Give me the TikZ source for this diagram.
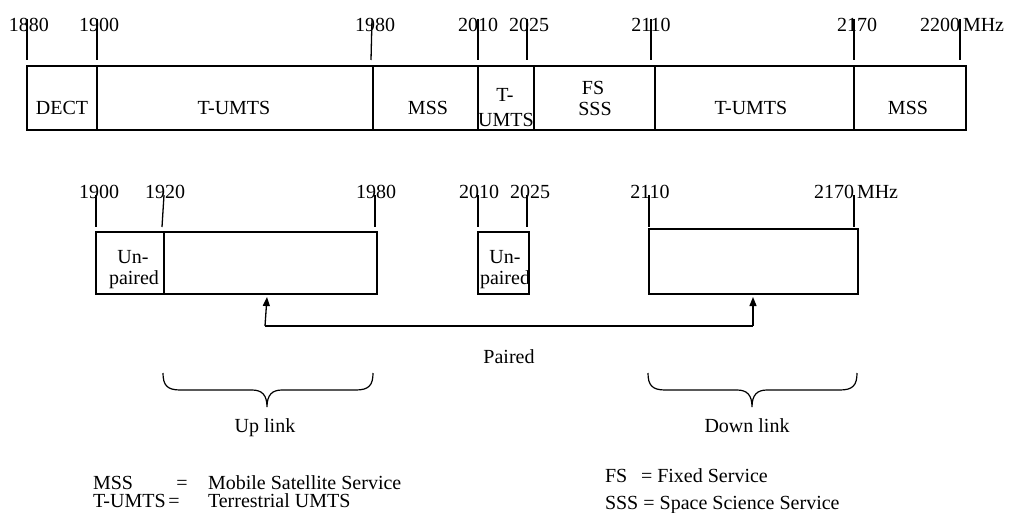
\documentclass[tikz,border=0pt]{standalone}
\usepackage{fontspec}
\setmainfont{Liberation Serif}
\usetikzlibrary{arrows.meta}
\begin{document}
\begin{tikzpicture}[x=1pt,y=-1pt,
  every node/.style={font=\fontsize{20}{22}\selectfont, inner sep=0pt, outer sep=0pt},
  lbl/.style={anchor=base},
  lblw/.style={anchor=base west},
  band/.style={draw, line width=1.3pt},
  tickline/.style={line width=1.3pt},
  conn/.style={line width=1.3pt},
  tipped/.style={conn, -{Triangle[length=9pt,width=7pt]}},
  bracepath/.style={line width=1.2pt}]
\useasboundingbox (0,0) rectangle (1011,513);

% ---------- top band ----------
\draw[band] (27,66) rectangle (966,130);
\foreach \x in {97,373,478,534,655,854} \draw[band] (\x,66) -- (\x,130);

\node[lbl] (t1880) at (29,32) {1880};
\node[lbl] (t1900) at (99,32) {1900};
\node[lbl] (t1980) at (375,32) {1980};
\node[lbl] (t2010) at (478,32) {2010};
\node[lbl] (t2025) at (529,32) {2025};
\node[lbl] (t2110) at (651,32) {2110};
\node[lbl] (t2170) at (857,32) {2170};
\node[lbl] (t2200) at (940,32) {2200};
\node[lblw] (tmhz) at (963,32) {MHz};

\foreach \a/\b in {27/27,97/97,372/371,478/478,527/527,651/651,854/854,960/960}
  \draw[tickline] (\a,19) -- (\b,60);

\node[lbl] (dect) at (62,115) {DECT};
\node[lbl] (tumtsA) at (234,115) {T-UMTS};
\node[lbl] (mssA) at (428,115) {MSS};
\node[lbl] (tumtsB1) at (505,102) {T-};
\node[lbl] (tumtsB2) at (506,127) {UMTS};
\node[lbl] (fs) at (593,95) {FS};
\node[lbl] (sss) at (595,116) {SSS};
\node[lbl] (tumtsC) at (751,115) {T-UMTS};
\node[lbl] (mssB) at (908,115) {MSS};

% ---------- second row ----------
\node[lbl] (b1900) at (99,198) {1900};
\node[lbl] (b1920) at (165,198) {1920};
\node[lbl] (b1980) at (376,198) {1980};
\node[lbl] (b2010) at (479,198) {2010};
\node[lbl] (b2025) at (530,198) {2025};
\node[lbl] (b2110) at (650,198) {2110};
\node[lbl] (b2170) at (834,198) {2170};
\node[lblw] (bmhz) at (857,198) {MHz};

\foreach \a/\b in {96/96,164/162,375/375,478/478,527/527,649/649,854/854}
  \draw[tickline] (\a,195) -- (\b,227);

\draw[band] (96,232) rectangle (377,294);
\draw[band] (164,232) -- (164,294);
\draw[band] (478,232) rectangle (529,294);
\draw[band] (649,229) rectangle (858,294);

\node[lbl] (un1) at (133,263) {Un-};
\node[lbl] (pa1) at (134,284) {paired};
\node[lbl] (un2) at (505,263) {Un-};
\node[lbl] (pa2) at (505,284) {paired};

% ---------- paired arrows ----------
\coordinate (pl) at (265,326);
\coordinate (pr) at (753,326);
\coordinate (pltip) at (267,297);
\coordinate (prtip) at (753,297);
\draw[conn] (pl) -- (pr);
\draw[tipped] (pl) -- (pltip);
\draw[tipped] (pr) -- (prtip);
\node[lbl] (paired) at (509,363) {Paired};

% ---------- braces ----------
\draw[bracepath] (163,373) .. controls (163,385) and (167,390) .. (180,390)
  -- (252,390) .. controls (262,390) and (267,395) .. (267,407)
  .. controls (267,395) and (272,390) .. (282,390)
  -- (356,390) .. controls (369,390) and (373,385) .. (373,373);
\draw[bracepath] (648,373) .. controls (648,385) and (652,390) .. (665,390)
  -- (737,390) .. controls (747,390) and (752,395) .. (752,407)
  .. controls (752,395) and (757,390) .. (767,390)
  -- (840,390) .. controls (853,390) and (857,385) .. (857,373);
\node[lbl] (uplink) at (265,432) {Up link};
\node[lbl] (downlink) at (747,432) {Down link};

% ---------- legend ----------
\node[lblw] (lmss) at (93,489) {MSS};
\node[lbl] (leq1) at (182,489) {=};
\node[lblw] (lmssd) at (208,489) {Mobile Satellite Service};
\node[lblw] (ltumts) at (93,507) {T-UMTS};
\node[lbl] (leq2) at (174,507) {=};
\node[lblw] (ltumtsd) at (208,507) {Terrestrial UMTS};
\node[lblw] (lfs) at (605,482) {FS};
\node[lblw] (lfsd) at (641,482) {= Fixed Service};
\node[lblw] (lsss) at (605,509) {SSS = Space Science Service};
\end{tikzpicture}
\end{document}
